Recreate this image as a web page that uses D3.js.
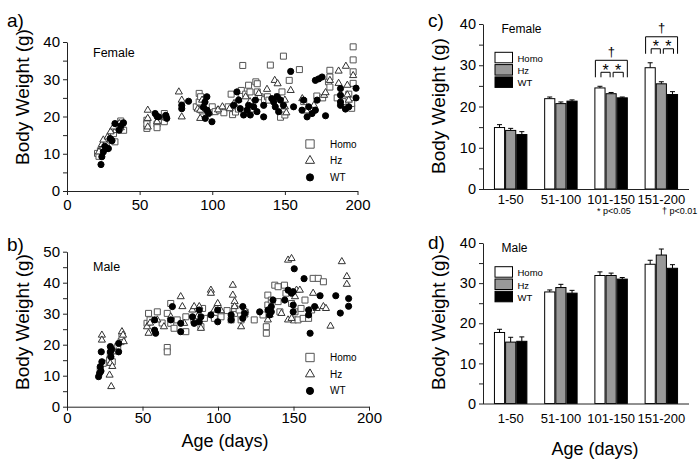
<!DOCTYPE html>
<html><head><meta charset="utf-8">
<script src="https://cdn.jsdelivr.net/npm/d3@7"></script>
<style>
body{margin:0;background:#fff;}
svg{font-family:"Liberation Sans",Arial,sans-serif;}
</style></head><body>
<svg id="chart" width="700" height="460"></svg>
<script>
// ---------- scatter data: [age (days), body weight (g)] ----------
const femaleHomo = [[21,10.1],[22,9.3],[23,10.8],[25,11.9],[27,12.5],[30,13.7],[32,15.4],[33,13.2],[34,16.5],[35,17.2],[37,18.8],[38,18.2],[39,16.3],
[55,19],[55,16.8],[55,18],[62,18],[62,17],[63,19],[67,20.8],[67,18.6],[68,19.8],
[89,22.6],[91,23.9],[91,26.2],[92,25.3],[93,21.5],[100,22.6],[102,21.3],[105,21.7],[108,21],[111,22.6],[113,26],[114,20.5],[116,21.2],[118,22],
[121,33.7],[120,27],[123,26],[125,28.4],[126,26.6],[128,22],[130,29.3],[131,28.8],[131,26.6],[133,25.3],[136,24.5],[138,25.3],[140,33.8],[139,24.4],[145,25.3],[147,19.8],[148,26.6],[149,36.2],[150,20.4],[153,29.7],[160,32.6],[163,24],[168,22],[172,25.5],[176,25],[180,29.3],[181,32.4],[181,30.6],[181,27.9],[186,25],[190,24],[196,22.2],[196,23.5],[197,38.7],[197,35.2],[197,32],[197,28.9],[194,26]];
const femaleHz = [[22,10.5],[24,12.5],[25,13.7],[28,14.5],[30,15.9],[32,17.2],[36,18.1],[37,17],
[55.6,21.7],[55.6,19.5],[55.6,17.2],[62,18.6],[67.6,19.9],[77,26.6],[79,19.9],[79,24.4],[90,22],[91.7,21.7],[91.7,19.5],[93,24.4],[94,22.6],[98,21],[104,21.8],[107,22.6],[112,22.1],[115,23.5],[118,24.5],[123,25.3],[126,24],[132,26.2],[137.7,27.3],[143,29.7],[145,28.8],[150,24.4],[150,22.6],[151,21],[154,27],[162,24.8],[165,21.5],[170,23],[177,25.7],[178,26.4],[181,29.7],[187,32.2],[187,28.9],[193,28.4],[193,25.8],[194,24.4],[192,33.5],[197,31]];
const femaleWT = [[23.4,7.1],[24,9.2],[25,10.5],[26,12],[27.4,11.4],[28.5,11.4],[29.7,14.1],[31,13.5],[33,18.1],[35.9,16.3],[38.9,18.3],[37,17.5],
[60.7,20.8],[63,19.9],[62,20],[68.7,19.5],[68,20.3],[79,22.1],[79,23],[83.7,24.1],[95,23.9],[96.3,25.3],[96.3,21.7],[95.2,19.5],[99.8,18.6],[97.5,20.8],[94,22.5],
[114.7,23],[117,26.6],[118.2,24.4],[119.3,22.1],[121.6,20.4],[124,21.7],[125,23],[126.2,20.4],[128.5,22.6],[129.7,24.4],[130.8,21.3],[135.4,19.9],[135.4,23],[141,24.8],[142.3,23.9],[143.4,22.6],[144.6,25.3],[145.7,21.3],[146.9,24.4],[149,23],[154,32.1],[156,22.6],[161.8,21.7],[162.9,24.4],[165.3,19.9],[166.4,22.6],[168.7,20.8],[171,21.7],[172.2,24.4],[171,29.7],[173.3,30.1],[175.6,30.6],[178,20.2],[188.3,27.5],[188.3,25.7],[188.3,23.9],[188.3,23],[194,22.6],[199,27.6],[199,25],[191.7,22]];

const maleHomo = [[22,11.8],[24,14],[28.2,15.1],[28.7,16.7],[30,14.5],[33.6,19.4],[35.8,21],[36.4,22.6],
[53,26.9],[54,30.1],[55,28],[59.8,30.6],[63,27],[66.4,30.1],[66.4,19.1],[66.4,17.7],[68.7,26.9],[68.7,33.3],[70.9,25.3],[73,28],[78.7,24.2],[78.7,29],[84,28],[88.7,25.8],[89.8,31.7],[91,28.5],[97.6,28.5],[102,29],[106,31],[108.7,28],[111,30.1],[111,31.7],[114,31.2],[115.3,28],[118,30.5],
[124,28],[129.8,29.6],[132,25.8],[132,23.7],[133,32.8],[133,36],[135.3,34.4],[137.6,39.2],[139.8,38.7],[139.8,33.9],[141,30.6],[144,39.2],[145,36.6],[148.7,33.3],[150,28],[151,30.6],[153,28],[155,31.7],[156.4,28.5],[157.6,34.4],[160,28.5],[163,41.4],[166.4,41.4],[169.8,40.3],[162,31.2]];
const maleHz = [[23.1,23.1],[23.1,21.5],[28.2,10.2],[29.3,6.5],[28.7,14],[30,13],[32.7,17.7],[36.4,24.2],[37.1,23.1],[37.6,21],
[53,25.8],[54,23.7],[55,27],[59.8,28],[64.2,25.8],[68.7,29],[75.3,35.5],[76.4,32.3],[77.6,26.9],[83,31.2],[84.2,32.3],[86.4,29],[87.6,32.3],[88.7,25.3],[95.3,37.6],[95.3,36.6],[97.6,31.2],[99.8,33.3],[102,31],[109.8,39.2],[109.8,36],[111,33.9],[111,32.3],[115.3,25.8],[117.6,29.6],[118,31],
[133,28],[134.2,29.6],[142,30.1],[146.4,47.3],[148.7,47.8],[146.4,28],[148.7,28.5],[151,35.5],[152,37.6],[154.2,37.6],[163,36.6],[165.3,31.7],[169.8,32.3],[171.5,31.7],[174.5,26],[182,46.8],[185.3,42],[185.3,39.5]];
const maleWT = [[20.9,9.7],[21.6,10.8],[22,12.9],[22.7,17.7],[23.1,14.5],[22.5,11.5],[28.7,19.4],[28.7,17.7],[29.1,16.1],[29.5,18.5],[34.2,17.7],[34.2,20.4],
[58,28],[58,24.7],[58.7,23.7],[69.8,32.3],[68.7,28],[75.3,24.2],[75.3,26.9],[83.1,29],[84.2,26.9],[87.6,31.2],[87.6,27.4],[88.7,29],[95.3,29.6],[99.8,31.2],[99.8,27.4],[108.7,29.6],[108.7,28],[116.4,28.5],[116.4,32.3],[117.6,30.1],
[127.6,30.6],[133.1,31.2],[134.2,29.6],[135.3,32.3],[136.4,34.4],[135.3,30.6],[144.2,34.4],[146.4,37.6],[148.7,36.6],[149.8,37.1],[150.5,44.5],[149.8,32.8],[149.8,30.6],[157,41.3],[160,31.2],[160,29.6],[161,23.7],[164,32.3],[167.6,35.8],[178,35.8],[181,30.2],[186.5,34.9],[186.5,32.4]];

// ---------- bar data ----------
const ageGroups = ["1-50","51-100","101-150","151-200"];
const genotypes = ["Homo","Hz","WT"];
const femaleMeanHomo = [14.9,21.9,24.5,29.4];
const femaleMeanHz   = [14.2,20.7,23.1,25.5];
const femaleMeanWT   = [13.2,21.3,22.1,22.9];
const femaleErrHomo  = [0.7,0.4,0.4,1.2];
const femaleErrHz    = [0.5,0.4,0.3,0.5];
const femaleErrWT    = [0.7,0.3,0.2,0.7];
const maleMeanHomo = [17.7,27.8,31.9,34.7];
const maleMeanHz   = [15.3,28.9,31.9,37.0];
const maleMeanWT   = [15.5,27.5,31.0,33.7];
const maleErrHomo  = [0.8,0.5,0.9,1.0];
const maleErrHz    = [1.2,0.8,0.6,1.5];
const maleErrWT    = [1.1,0.7,0.4,0.9];
const femaleSigGroups = ["101-150","151-200"];
const scatterXTicks = [0,50,100,150,200];

const svg = d3.select("#chart");
const AX = "#222";

function styleAxis(sel, fs){
  sel.selectAll("path.domain").attr("stroke",AX).attr("stroke-width",1);
  sel.selectAll(".tick line").attr("stroke",AX);
  sel.selectAll(".tick text").attr("fill","#000").style("font-size",fs+"px")
     .style("font-family",'"Liberation Sans",Arial,sans-serif');
}

function drawSymbols(g, data, type, size, x, y, fill, stroke){
  const sym = d3.symbol().type(type).size(size);
  g.selectAll(null).data(data).join("path")
    .attr("d", sym)
    .attr("transform", d => `translate(${x(d[0])},${y(d[1])})`)
    .attr("fill", fill).attr("stroke", stroke).attr("stroke-width", 1);
}

function scatter(o){
  const x = d3.scaleLinear().domain([0,200]).range(o.xr);
  const y = d3.scaleLinear().domain([0,o.ymax]).range(o.yr);
  const g = svg.append("g");
  const xa = g.append("g").attr("transform",`translate(0,${o.yr[0]})`)
    .call(d3.axisBottom(x).tickValues(scatterXTicks).tickSize(4).tickPadding(o.xtp).tickSizeOuter(0));
  styleAxis(xa, 15);
  const ya = g.append("g").attr("transform",`translate(${o.xr[0]},0)`)
    .call(d3.axisLeft(y).tickValues(d3.range(0,o.ymax+1,5)).tickFormat(d=> d%10===0? d : "").tickSize(4).tickPadding(3).tickSizeOuter(0));
  styleAxis(ya, 15);

  drawSymbols(g, o.data[0], d3.symbolSquare, 36, x, y, "#fff", "#555");
  drawSymbols(g, o.data[1], d3.symbolTriangle, 22, x, y, "#fff", "#333");
  drawSymbols(g, o.data[2], d3.symbolCircle, 30, x, y, "#000", "#000");

  // legend
  const lg = g.append("g");
  const syms = [[d3.symbolSquare,70,"#fff","#555"],[d3.symbolTriangle,36,"#fff","#333"],[d3.symbolCircle,40,"#000","#000"]];
  genotypes.forEach((gt,i)=>{
    const ly = o.legY + i*16.7;
    lg.append("path").attr("d", d3.symbol().type(syms[i][0]).size(syms[i][1])())
      .attr("transform",`translate(310,${ly})`).attr("fill",syms[i][2]).attr("stroke",syms[i][3]);
    lg.append("text").attr("x",330).attr("y",ly+3.5).style("font-size","10px").text(gt);
  });
  g.append("text").attr("x",93).attr("y",o.sexY).style("font-size","12.5px").text(o.sex);
  g.append("text").attr("x",7).attr("y",o.labY).style("font-size","19px").text(o.label);
  g.append("text").attr("transform",`translate(29,${o.titleY}) rotate(-90)`).attr("text-anchor","middle")
    .style("font-size","19px").text("Body Weight (g)");
  if(o.xtitle){
    g.append("text").attr("x",o.xtitleX).attr("y",o.xtitleY).attr("text-anchor","middle").style("font-size","18px").text("Age (days)");
  }
}

function bars(o){
  const x0 = d3.scaleBand().domain(ageGroups).range([483,689]).paddingInner(0.334).paddingOuter(0.218);
  const x1 = d3.scaleBand().domain(genotypes).range([0,x0.bandwidth()]);
  const y = d3.scaleLinear().domain([0,40]).range(o.yr);
  const g = svg.append("g");
  const fills = ["#fff","#999","#000"];
  genotypes.forEach((gt,i)=>{
    const m = o.means[i], e = o.errs[i];
    // error bars (upper)
    g.selectAll(null).data(ageGroups).join("path")
      .attr("d",(c,j)=>{const cx = x0(c)+x1(gt)+x1.bandwidth()/2; const t=y(m[j]+e[j]);
        return `M${cx},${y(m[j])}V${t}M${cx-2.5},${t}H${cx+2.5}`;})
      .attr("stroke","#000").attr("fill","none");
    g.selectAll(null).data(ageGroups).join("rect")
      .attr("x",c=>x0(c)+x1(gt)+0.5).attr("y",(c,j)=>y(m[j]))
      .attr("width",x1.bandwidth()-1).attr("height",(c,j)=>y(0)-y(m[j]))
      .attr("fill",fills[i]).attr("stroke","#000").attr("stroke-width",1);
  });
  const xa = g.append("g").attr("transform",`translate(0,${o.yr[0]})`)
    .call(d3.axisBottom(x0).tickSize(0).tickPadding(o.xpad).tickSizeOuter(0));
  styleAxis(xa, 13);
  xa.select("path.domain").attr("d",`M483,0.5H689`);
  const ya = g.append("g").attr("transform",`translate(483,0)`)
    .call(d3.axisLeft(y).tickValues(d3.range(0,41,5)).tickFormat(d=> d%10===0? d : "").tickSize(4).tickPadding(3).tickSizeOuter(0));
  styleAxis(ya, 14.5);

  // legend
  genotypes.forEach((gt,i)=>{
    const ly = o.legY + i*12.3;
    g.append("rect").attr("x",495).attr("y",ly).attr("width",17.5).attr("height",10.5)
      .attr("fill",fills[i]).attr("stroke","#000");
    g.append("text").attr("x",517.5).attr("y",ly+9.5).style("font-size","9.5px").text(gt);
  });
  g.append("text").attr("x",501.5).attr("y",o.sexY).style("font-size","12px").text(o.sex);
  g.append("text").attr("x",428).attr("y",o.labY).style("font-size","19px").text(o.label);
  g.append("text").attr("transform",`translate(445,${o.titleY}) rotate(-90)`).attr("text-anchor","middle")
    .style("font-size","19px").text("Body Weight (g)");
  if(o.xtitle){
    g.append("text").attr("x",595).attr("y",455).attr("text-anchor","middle").style("font-size","18px").text("Age (days)");
  }
  // significance brackets
  if(o.sig){
    o.sig.forEach(c=>{
      const j = ageGroups.indexOf(c);
      const top = d3.max(genotypes.map((gt,i)=>o.means[i][j]+o.errs[i][j]));
      const base = y(top) - 9;
      const cx = gt => x0(c)+x1(gt)+x1.bandwidth()/2;
      const xl = x0(c)+1, xr = x0(c)+x0.bandwidth()-0.5;
      g.append("path").attr("d",`M${xl},${base}V${base-17}H${xr}V${base}`).attr("fill","none").attr("stroke","#000");
      g.append("path").attr("d",`M${cx("Homo")+1},${base}V${base-5}H${cx("Hz")-1}V${base}`).attr("fill","none").attr("stroke","#000");
      g.append("path").attr("d",`M${cx("Hz")+2},${base}V${base-5}H${cx("WT")+1}V${base}`).attr("fill","none").attr("stroke","#000");
      const starX = [(cx("Homo")+cx("Hz"))/2, (cx("Hz")+cx("WT"))/2 + 1.5];
      starX.forEach(sx=>{
        g.append("text").attr("x",sx).attr("y",base-1.5).attr("text-anchor","middle").style("font-size","16px").text("*");
      });
      g.append("text").attr("x",(xl+xr)/2).attr("y",base-21.5).attr("text-anchor","middle").style("font-size","13px").text("\u2020");
    });
    g.append("text").attr("x",597).attr("y",214).style("font-size","9px").text("* p<0.05");
    g.append("text").attr("x",662).attr("y",214).style("font-size","9px").text("\u2020 p<0.01");
  }
}

scatter({xr:[67,357.5], yr:[191,42], ymax:40, data:[femaleHomo,femaleHz,femaleWT], legY:144, sex:"Female", sexY:56.5, label:"a)", labY:27, titleY:97, xtp:4});
scatter({xr:[67,369], yr:[406.7,251.7], ymax:50, data:[maleHomo,maleHz,maleWT], legY:357.5, sex:"Male", sexY:270.5, label:"b)", labY:251, titleY:322, xtp:2, xtitle:true, xtitleX:225, xtitleY:447});
bars({yr:[189,24], means:[femaleMeanHomo,femaleMeanHz,femaleMeanWT], errs:[femaleErrHomo,femaleErrHz,femaleErrWT], legY:52.3, sex:"Female", sexY:33, label:"c)", labY:27, titleY:106, xpad:6, sig:femaleSigGroups});
bars({yr:[403.5,243], means:[maleMeanHomo,maleMeanHz,maleMeanWT], errs:[maleErrHomo,maleErrHz,maleErrWT], legY:266.7, sex:"Male", sexY:251.5, label:"d)", labY:249, titleY:322, xpad:10, xtitle:true});
</script>
</body></html>
